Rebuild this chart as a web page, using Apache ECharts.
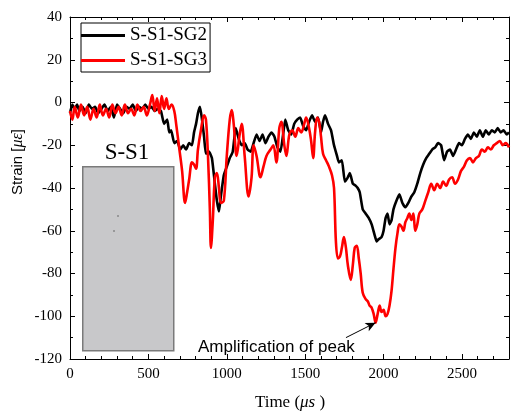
<!DOCTYPE html>
<html><head><meta charset="utf-8">
<script src="https://cdn.jsdelivr.net/npm/echarts@6/dist/echarts.min.js"></script>
<style>html,body{margin:0;padding:0;background:#fff}#c{width:512px;height:413px}</style>
</head><body><div id="c"></div>
<script>
// Time (μs) and strain (με)
const timeSG2 = [0,15,30,45,60,80,100,120,140,160,180,200,220,240,260,280,300,320,340,360,380,400,420,440,460,480,500,520,540,560,
580,600,620,633,645,665,684,703,722,740,760,778,791,804,816,829,842,855,867,886,
905,924,937,950,962,981,1000,1019,1038,1057,1076,1095,1114,1133,1152,1171,1190,1209,1228,1247,
1266,1285,1304,1323,1342,1361,1373,1392,1411,1430,1449,1468,1487,1506,1525,1544,1563,1582,1601,1614,
1627,1646,1665,1684,1703,1715,1734,1753,1772,1785,1804,1823,1835,1848,1867,1886,1905,1924,1943,1956,
1968,1987,2000,2013,2025,2038,2051,2063,2082,2101,2120,2139,2158,2177,2196,2215,2234,2253,2272,2291,
2310,2329,2348,2367,2386,2405,2424,2443,2462,2481,2500,2519,2538,2557,2576,2595,2614,2633,2652,2671,
2690,2709,2728,2747,2766,2785,2800];
const strainSG2 = [-5,-1,-3,-1,-4,-2,-5,-1,-3,-2,-5,-3,-1,-4,-2,-7,-1,-3,-5,-2,-3,-1,-4,-2,-3,-1,-3,-2,-4,-3,
-4,-10,-8,-14,-13,-19,-18,-22,-20,-22,-19,-20,-14,-10,-5,-2,-8,-16,-24,-23,
-26,-38,-46,-51,-44,-34,-30,-26,-23,-12,-17,-20,-19,-22,-23,-19,-15,-18,-15,-19,
-16,-14,-16,-21,-23,-14,-8,-13,-15,-10,-8,-7,-11,-13,-9,-6,-9,-7,-14,-9,
-6,-10,-13,-20,-25,-28,-27,-37,-35,-33,-38,-39,-40,-42,-50,-52,-54,-57,-62,-65,
-64,-63,-60,-54,-52,-57,-55,-50,-46,-43,-47,-49,-47,-44,-42,-38,-33,-29,-26,-24,
-22,-21,-19,-20,-27,-23,-22,-25,-22,-19,-20,-17,-15,-17,-14,-16,-13,-16,-13,-15,
-13,-14,-12,-14,-13,-15,-14];

const timeSG3 = [0,15,30,50,70,90,110,130,150,170,190,210,230,250,270,290,310,330,350,370,390,410,430,450,470,490,510,
525,540,555,570,585,600,615,630,648,665,677,696,715,734,747,760,778,791,804,816,835,855,867,880,892,899,911,924,937,950,962,981,
1000,1019,1032,1044,1063,1082,1095,1114,1139,1158,1171,1190,1215,1234,1253,1279,1297,1316,1335,1348,1367,1380,1399,1418,1437,1456,1475,1494,
1506,1525,1538,1551,1563,1576,1589,1601,1614,1633,1652,1671,1684,1696,1709,1722,1734,1747,1760,1772,1791,1804,1816,1829,1842,1854,1867,1886,1899,
1911,1924,1937,1949,1962,1975,1987,2000,2013,2025,2038,2051,2063,2076,2089,2101,2114,2127,2139,2152,2164,2177,2190,2202,2215,2228,2247,2266,2285,
2304,2323,2342,2361,2380,2399,2418,2437,2456,2475,2494,2513,2532,2551,2570,2589,2608,2627,2646,2665,2684,2703,2722,2741,2760,2779,2800];
const strainSG3 = [-4,-8,-2,-7,-1,-6,-2,-8,-3,-7,-1,-6,-3,-7,-1,-5,-2,-6,-1,-5,-3,-6,-1,-4,-2,-6,-1,
3.5,-4,2,-5,3,-3,2,-3,-1,-4,-10,-21,-32,-47,-42,-36,-28,-29,-31,-22,-13,-6,-8,-25,-50,-68,-55,-35,-33,-40,-47,-46,
-25,-8,-3.5,-10,-25,-15,-10,-25,-44,-35,-20,-25,-35,-30,-25,-22,-20,-28,-12,-9,-20,-25,-15,-13,-16,-12,-14,-10,
-7,-12,-18,-26,-14,-7,-9,-16,-24,-27,-30,-34,-40,-65,-73,-72,-68,-63,-68,-76,-83,-76,-68,-67,-73,-80,-89,-92,-93,
-95,-96,-99,-103,-99,-95,-98,-97,-100,-99,-95,-88,-78,-68,-61,-57,-58,-60,-56,-54,-52,-55,-52,-60,-57,-52,-50,-46,-42,
-38,-41,-38,-40,-37,-39,-36,-35,-38,-36,-32,-30,-27,-26,-28,-26,-25,-22,-23,-21,-22,-20,-19,-18,-20,-19,-21];

const xTicks = [0,500,1000,1500,2000,2500];
const yTicks = [-120,-100,-80,-60,-40,-20,0,20,40];
const seriesNames = ['S-S1-SG2','S-S1-SG3'];
const peakNote = 'Amplification of peak';
const peakTail = [1760,-110];
const peakHead = [1949,-103];

const zip = (t, v) => t.map((x, i) => [x, v[i]]);
const serif = 'Liberation Serif';
const sans = 'Liberation Sans';

const chart = echarts.init(document.getElementById('c'), null, {renderer: 'canvas'});
const axisCommon = {
  axisLine: {show: true, onZero: false, lineStyle: {color: '#000', width: 1}},
  axisTick: {show: true, inside: true, length: 5, lineStyle: {color: '#000'}},
  splitLine: {show: false}
};
const minorX = {minorTick: {show: true, splitNumber: 5, length: 3, lineStyle: {color: '#000'}}};
const minorY = {minorTick: {show: true, splitNumber: 2, length: 3, lineStyle: {color: '#000'}}};
chart.setOption({
  animation: false,
  grid: {left: 70, right: 0, top: 17, bottom: 54, containLabel: false},
  xAxis: [
    Object.assign({type: 'value', min: 0, max: 2800, interval: 500, position: 'bottom',
      axisLabel: {color: '#000', fontFamily: serif, fontSize: 15, margin: 8,
        formatter: v => xTicks.includes(v) ? String(v) : ''}
    }, axisCommon, minorX),
    Object.assign({type: 'value', min: 0, max: 2800, interval: 500, position: 'top',
      axisLabel: {show: false}}, axisCommon, minorX)
  ],
  yAxis: [
    Object.assign({type: 'value', min: -120, max: 40, interval: 20, position: 'left',
      axisLabel: {color: '#000', fontFamily: serif, fontSize: 15, margin: 8,
        formatter: v => yTicks.includes(v) ? String(v) : ''}
    }, axisCommon, minorY),
    Object.assign({type: 'value', min: -120, max: 40, interval: 20, position: 'right',
      axisLabel: {show: false}}, axisCommon, minorY)
  ],
  legend: {
    show: true, orient: 'vertical', left: 81, top: 23,
    data: seriesNames.map(n => ({name: n, icon: 'rect'})),
    itemWidth: 44, itemHeight: 3, itemGap: 6,
    padding: [3, 3, 2, 0],
    borderColor: '#000', borderWidth: 1, backgroundColor: '#fff',
    textStyle: {fontFamily: serif, fontSize: 19, color: '#000', lineHeight: 19}
  },
  series: [
    {name: seriesNames[0], type: 'line', data: zip(timeSG2, strainSG2), showSymbol: false, symbol: 'none',
      lineStyle: {color: '#000', width: 2.6}, itemStyle: {color: '#000'}, smooth: 0.15, z: 2},
    {name: seriesNames[1], type: 'line', data: zip(timeSG3, strainSG3), showSymbol: false, symbol: 'none',
      lineStyle: {color: '#ff0000', width: 2.6}, itemStyle: {color: '#ff0000'}, smooth: 0.35, z: 3,
      markLine: {silent: true, symbol: ['none', 'arrow'], symbolSize: [7, 10],
        lineStyle: {color: '#000', width: 1, type: 'solid'}, label: {show: false},
        data: [[{coord: peakTail}, {coord: peakHead}]]}}
  ],
  graphic: [
    {type: 'rect', left: 82, top: 166, shape: {width: 91, height: 184},
      style: {fill: '#c8c8ca', stroke: '#7a7a7a', lineWidth: 1.5}, z: 10},
    {type: 'circle', shape: {cx: 118, cy: 216, r: 0.7}, style: {fill: '#444'}, z: 11},
    {type: 'circle', shape: {cx: 114, cy: 231, r: 0.7}, style: {fill: '#444'}, z: 11},
    {type: 'text', x: 127, y: 153, style: {text: 'S-S1', font: '23px "Liberation Serif"', fill: '#000', align: 'center', verticalAlign: 'middle'}, z: 11},
    {type: 'text', x: 198, y: 347, style: {text: peakNote, font: '17px "Liberation Sans"', fill: '#000', align: 'left', verticalAlign: 'middle'}, z: 11},
    {type: 'text', x: 18, y: 162, rotation: Math.PI / 2,
      style: {text: '{a|Strain [}{b|με}{a|]}', align: 'center', verticalAlign: 'middle',
        rich: {a: {fontFamily: sans, fontSize: 15, fill: '#000'}, b: {fontFamily: serif, fontStyle: 'italic', fontSize: 16, fill: '#000'}}}, z: 11},
    {type: 'text', x: 290, y: 403,
      style: {text: '{a|Time (}{b|μs}{a| )}', align: 'center', verticalAlign: 'middle',
        rich: {a: {fontFamily: serif, fontSize: 17, fill: '#000'}, b: {fontFamily: serif, fontStyle: 'italic', fontSize: 17, fill: '#000'}}}, z: 11}
  ]
});
</script></body></html>
